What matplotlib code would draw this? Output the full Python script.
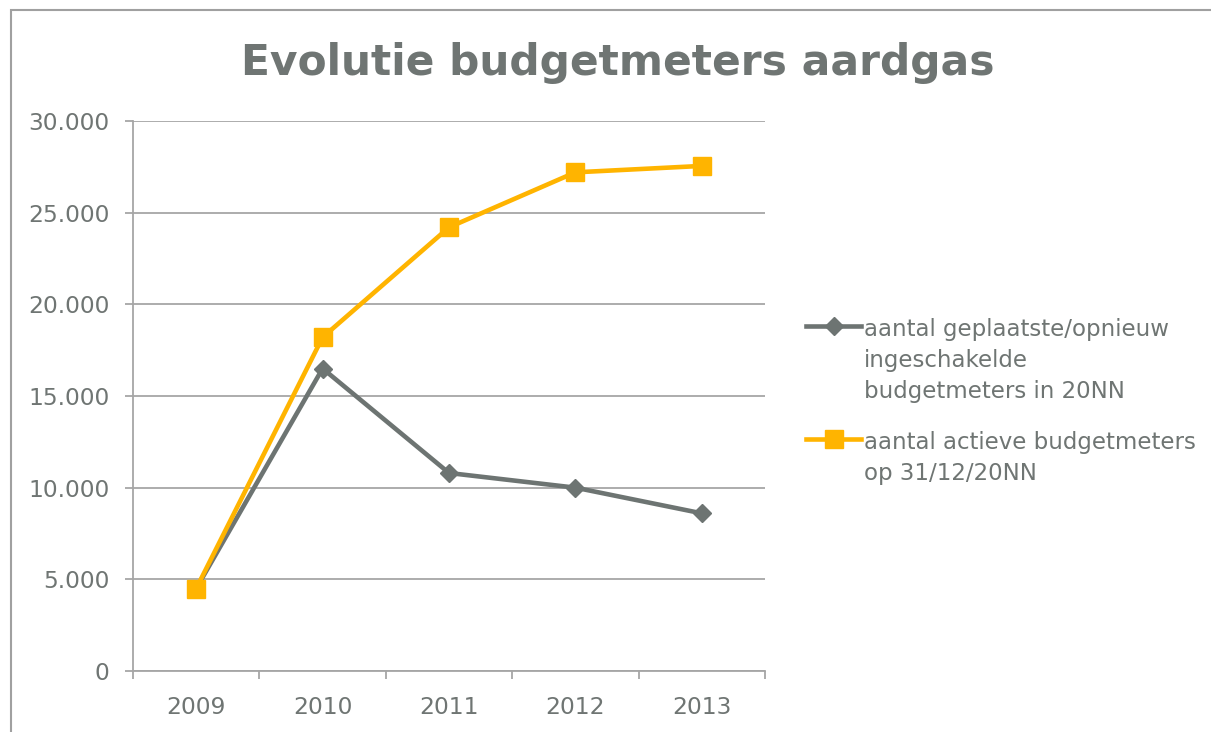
from matplotlib import pyplot as plt
from matplotlib.patches import Rectangle
from matplotlib.ticker import FuncFormatter, FixedLocator
import numpy as np

# data
years = ["2009", "2010", "2011", "2012", "2013"]
geplaatst = [4500, 16500, 10800, 10000, 8600]
actief = [4500, 18200, 24200, 27200, 27550]
labels = ["aantal geplaatste/opnieuw\ningeschakelde\nbudgetmeters in 20NN",
          "aantal actieve budgetmeters\nop 31/12/20NN"]

txt_col = "#6f7573"
grid_col = "#a6a6a6"
grey_col = "#6d7472"
orange_col = "#ffb400"

plt.rcParams['font.family'] = ['DejaVu Sans']

W, H = 1211, 732
fig = plt.figure(figsize=(W / 100, H / 100), dpi=100)
ax = fig.add_axes([133 / W, 1 - 671 / H, (765 - 133) / W, (671 - 121) / H])

x = np.arange(len(years))
ax.plot(x, geplaatst, color=grey_col, lw=3.3, marker="D", ms=9, label=labels[0], zorder=3)
ax.plot(x, actief, color=orange_col, lw=3.3, marker="s", ms=13, label=labels[1], zorder=4)

ax.set_xlim(-0.5, len(years) - 0.5)
ax.set_ylim(0, 30000)
ax.set_yticks(np.arange(0, 30001, 5000))
ax.yaxis.set_major_formatter(FuncFormatter(lambda v, p: f"{int(v):,}".replace(",", ".")))
ax.set_xticks(x)
ax.set_xticklabels(years)
ax.xaxis.set_minor_locator(FixedLocator(np.arange(-0.5, len(years), 1.0)))

ax.grid(axis="y", color=grid_col, lw=1.3)
ax.set_axisbelow(True)
for s in ["top", "right"]:
    ax.spines[s].set_visible(False)
for s in ["left", "bottom"]:
    ax.spines[s].set_color(grid_col)
    ax.spines[s].set_linewidth(1.3)

ax.tick_params(axis="y", length=6, width=1.3, color=grid_col, pad=11, labelsize=16.8, labelcolor=txt_col)
ax.tick_params(axis="x", which="major", length=0, pad=18, labelsize=16.8, labelcolor=txt_col)
ax.tick_params(axis="x", which="minor", length=6, width=1.3, color=grid_col)

fig.text(618 / W, 1 - 63 / H, "Evolutie budgetmeters aardgas", ha="center", va="center",
         fontsize=30.5, fontweight="bold", color=txt_col)

leg = fig.legend(loc="upper left", bbox_to_anchor=(806 / W, 1 - 318 / H), frameon=False,
                 fontsize=16.5, handlelength=2.4, handletextpad=0.12, borderpad=0,
                 borderaxespad=0, labelspacing=1.2, labelcolor=txt_col)
for t in leg.get_texts():
    t.set_linespacing(1.45)
# handle next to the first line of text, as in the reference
for col in leg._legend_handle_box.get_children():
    for row in col.get_children():
        row.align = "top"

# outer chart border (cropped on the right and bottom)
fig.add_artist(Rectangle((11 / W, -0.5), 2, 0.5 + 1 - 10 / H, transform=fig.transFigure,
                         fill=False, edgecolor="#a0a0a0", lw=1.5, clip_on=False))

fig.savefig("out.png", dpi=100)
plt.close()
